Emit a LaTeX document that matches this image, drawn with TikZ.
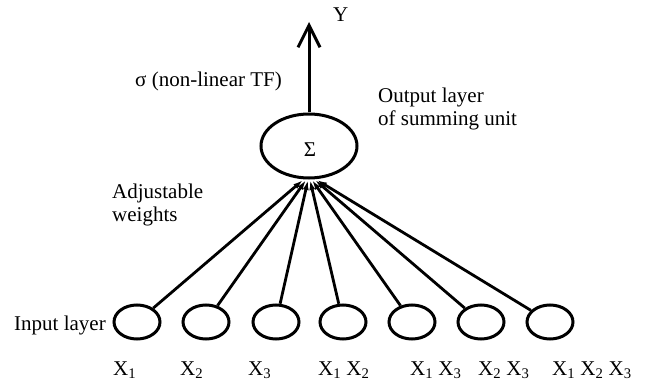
\documentclass[tikz,border=0pt]{standalone}
\usepackage{fontspec}
\setmainfont{Liberation Serif}
\usetikzlibrary{arrows.meta,shapes.geometric}
\begin{document}
\begin{tikzpicture}[x=1pt,y=-1pt,
  txt/.style={inner sep=0pt,font=\fontsize{21}{23}\selectfont},
  inp/.style={draw,line width=3pt,ellipse,minimum width=46pt,minimum height=34pt,inner sep=0pt},
  wire/.style={line width=2.8pt,-{Latex[length=10pt,width=6pt]}}]
\useasboundingbox (0,0) rectangle (653,382);
\node[draw,line width=3pt,ellipse,minimum width=96pt,minimum height=64pt,inner sep=0pt] (sum) at (309,146) {};
\node[txt,anchor=base] (sig) at (310,157) {Σ};
\coordinate (ytop) at (309,22);
\draw[line width=3pt,-{Straight Barb[length=22pt,width=22pt,line width=3pt]}] (sum.north) -- (ytop);
\node[txt,anchor=base west] (ylab) at (333,22) {Y};
\node[txt,anchor=base west] (sigl) at (135,87) {σ (non-linear TF)};
\node[txt,anchor=base west,align=left] (outl) at (378,126) {Output layer\\of summing unit};
\node[txt,anchor=base west,align=left] (adj) at (112,222) {Adjustable\\weights};
\node[txt,anchor=base west] (inl) at (14,330) {Input layer};
\foreach \i/\x in {1/137,2/206,3/276,4/343,5/412,6/481,7/550}{
  \node[inp] (b\i) at (\x,322) {};
}
\foreach \i/\t in {1/303,2/306,3/308,4/310,5/312,6/315,7/317}{
  \coordinate (t\i) at (\t,180);
  \draw[wire] (b\i) -- (t\i);
}
\node[txt,anchor=base west] (l1) at (113,375) {X\textsubscript{1}};
\node[txt,anchor=base west] (l2) at (180,375) {X\textsubscript{2}};
\node[txt,anchor=base west] (l3) at (248,375) {X\textsubscript{3}};
\node[txt,anchor=base west] (l4) at (318,375) {X\textsubscript{1} X\textsubscript{2}};
\node[txt,anchor=base west] (l5) at (410,375) {X\textsubscript{1} X\textsubscript{3}};
\node[txt,anchor=base west] (l6) at (478,375) {X\textsubscript{2} X\textsubscript{3}};
\node[txt,anchor=base west] (l7) at (552,375) {X\textsubscript{1} X\textsubscript{2} X\textsubscript{3}};
\end{tikzpicture}
\end{document}
